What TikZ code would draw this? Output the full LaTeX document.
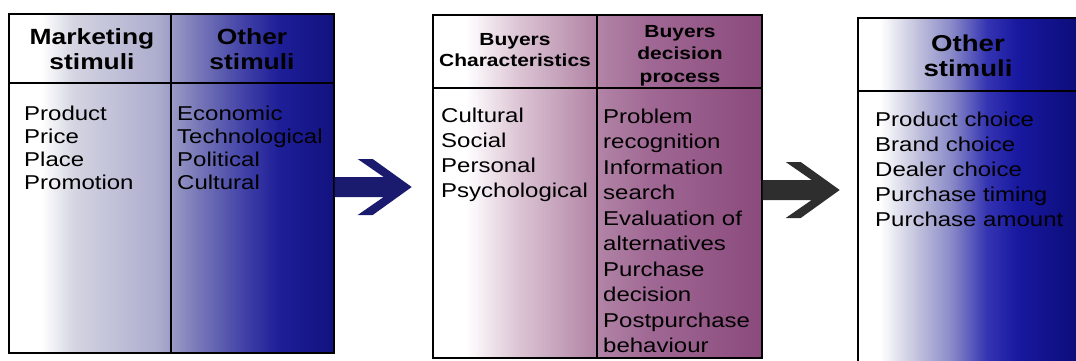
\documentclass[tikz,border=0pt]{standalone}
\usepackage{fontspec}
\setmainfont[FakeStretch=1.2]{Liberation Sans}
\usepackage{tikz}
\usetikzlibrary{calc,positioning}
\definecolor{stimpale}{HTML}{D4D4E2}
\definecolor{stimlav}{HTML}{ACACCE}
\definecolor{stimmid}{HTML}{7878B8}
\definecolor{stimblue}{HTML}{4242A8}
\definecolor{stimdeep}{HTML}{1E1E98}
\definecolor{stimnavy}{HTML}{121280}
\definecolor{buypale}{HTML}{DCC4D4}
\definecolor{buylight}{HTML}{B488A8}
\definecolor{buymid}{HTML}{A06894}
\definecolor{buydeep}{HTML}{8A4A7C}
\definecolor{resppale}{HTML}{C4C4DE}
\definecolor{respmid}{HTML}{8A8AC8}
\definecolor{respblue}{HTML}{3434B2}
\definecolor{respdeep}{HTML}{1818A0}
\definecolor{respnavy}{HTML}{0C0C78}
\definecolor{arrownavy}{HTML}{1A1A6E}
\definecolor{arrowgrey}{HTML}{2E2E2E}
\pgfdeclarehorizontalshading{stimfade}{100bp}{color(0bp)=(white); color(30bp)=(white);
  color(35bp)=(stimpale); color(48bp)=(stimlav); color(54bp)=(stimmid);
  color(61bp)=(stimblue); color(66.5bp)=(stimdeep); color(75bp)=(stimnavy); color(100bp)=(stimnavy)}
\pgfdeclarehorizontalshading{buyfade}{100bp}{color(0bp)=(white); color(30bp)=(white);
  color(38bp)=(buypale); color(49bp)=(buylight); color(58bp)=(buymid);
  color(75bp)=(buydeep); color(100bp)=(buydeep)}
\pgfdeclarehorizontalshading{respfade}{100bp}{color(0bp)=(white); color(30bp)=(white);
  color(38bp)=(resppale); color(46bp)=(respmid); color(54bp)=(respblue);
  color(61bp)=(respdeep); color(75bp)=(respnavy); color(100bp)=(respnavy)}

\begin{document}
\begin{tikzpicture}[x=1pt, y=-1pt,
  panel/.style={draw=black, line width=1.4pt, shade, inner sep=0pt},
  rule/.style={line width=1.3pt},
  head/.style 2 args={anchor=north, inner sep=0pt, align=center,
    font=\bfseries\fontsize{#1}{#2}\selectfont},
  item/.style={anchor=base west, inner sep=0pt, font=\fontsize{20}{24}\selectfont}]
  \useasboundingbox (0,0) rectangle (1076,360);
  \clip (0,0) rectangle (1076,360);

  \node[panel, shading=stimfade, minimum width=325pt, minimum height=339pt] (stim) at (171.5,183.5) {};
  \node[panel, shading=buyfade, minimum width=329pt, minimum height=343pt] (buyer) at (597.5,186.5) {};
  \node[panel, shading=respfade, minimum width=222pt, minimum height=350pt] (resp) at (969,193) {};

  \draw[rule] (stim.north -| 171,0) -- (stim.south -| 171,0)
    (stim.west |- 0,83) -- (stim.east |- 0,83);
  \draw[rule] (buyer.north -| 597,0) -- (buyer.south -| 597,0)
    (buyer.west |- 0,88) -- (buyer.east |- 0,88);
  \draw[rule] (resp.west |- 0,91) -- (resp.east |- 0,91);

  \foreach \src/\col in {stim/arrownavy, buyer/arrowgrey}
    \fill[\col, shift={($(\src.east)+(0,3.5)$)}] (0,-10) -- (49,-10) -- (23,-28) -- (38,-28)
      -- (77,0) -- (38,28) -- (23,28) -- (49,10) -- (0,10) -- cycle;

  \node[head={22}{25}] (mixhead) at (92,28) {Marketing\\stimuli};
  \node[head={22}{25}] (envhead) at (252,28) {Other\\stimuli};
  \node[head={17.5}{21}] (traithead) at (515,33) {Buyers\\Characteristics};
  \node[head={17.5}{22.5}] (stephead) at (680,25) {Buyers\\decision\\process};
  \node[head={23}{25}] (pickhead) at (968,35) {Other\\stimuli};

  \foreach \t [count=\i] in {Product,Price,Place,Promotion}
    \node[item] (mix\i) at (24,97+23*\i) {\t};
  \foreach \t [count=\i] in {Economic,Technological,Political,Cultural}
    \node[item] (env\i) at (177,97+23*\i) {\t};
  \foreach \t [count=\i] in {Cultural,Social,Personal,Psychological}
    \node[item] (trait\i) at (441,97+25*\i) {\t};
  \foreach \t [count=\i] in {Problem,recognition,Information,search,Evaluation of,
      alternatives,Purchase,decision,Postpurchase,behaviour}
    \node[item] (step\i) at (603,97.5+25.5*\i) {\t};
  \foreach \t [count=\i] in {Product choice,Brand choice,Dealer choice,Purchase timing,Purchase amount}
    \node[item] (pick\i) at (875,101+25*\i) {\t};
\end{tikzpicture}
\end{document}
